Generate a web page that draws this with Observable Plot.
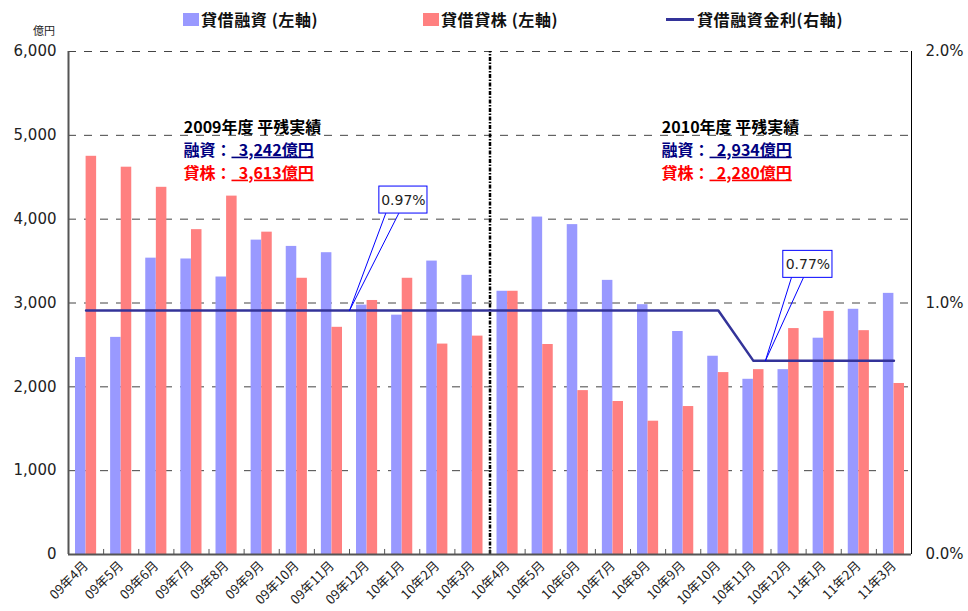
<!DOCTYPE html>
<html><head><meta charset="utf-8">
<script src="https://cdn.jsdelivr.net/npm/d3@7"></script>
<script src="https://cdn.jsdelivr.net/npm/@observablehq/plot@0.6"></script>
<style>
body{margin:0;background:#fff;}
#wrap{position:relative;width:968px;height:611px;overflow:hidden;}
#wrap svg{position:absolute;left:0;top:0;}
.lg{position:absolute;top:9px;font-family:"Noto Sans CJK JP";font-weight:700;font-size:16px;letter-spacing:0.6px;color:#111;white-space:nowrap;line-height:20px;}
.sw{position:absolute;}
.unit{position:absolute;left:33px;top:22px;font-family:"Noto Sans CJK JP";font-size:11px;color:#222;}
</style></head><body><div id="wrap"></div><script>
// ---- data ----
const months = ["09年4月","09年5月","09年6月","09年7月","09年8月","09年9月","09年10月","09年11月","09年12月","10年1月","10年2月","10年3月",
                "10年4月","10年5月","10年6月","10年7月","10年8月","10年9月","10年10月","10年11月","10年12月","11年1月","11年2月","11年3月"];
const loans = [2350,2590,3535,3525,3310,3750,3675,3600,2975,2855,3500,3330,
               3140,4025,3935,3270,2980,2660,2365,2090,2205,2580,2925,3115];
const lent  = [4750,4620,4380,3875,4275,3845,3295,2710,3030,3295,2510,2605,
               3140,2505,1955,1825,1590,1765,2170,2205,2695,2900,2670,2040];
const rates = [0.97,0.97,0.97,0.97,0.97,0.97,0.97,0.97,0.97,0.97,0.97,0.97,
               0.97,0.97,0.97,0.97,0.97,0.97,0.97,0.77,0.77,0.77,0.77,0.77];
const seriesNames = ["貸借融資 (左軸)","貸借貸株 (左軸)","貸借融資金利(右軸)"];
const leftTicks = [0,1000,2000,3000,4000,5000,6000];
const rightTicks = [0.0,1.0,2.0];
const summaries = [
  {title:"2009年度 平残実績", loanLabel:"融資：", loanValue:"3,242億円", lentLabel:"貸株：", lentValue:"3,613億円"},
  {title:"2010年度 平残実績", loanLabel:"融資：", loanValue:"2,934億円", lentLabel:"貸株：", lentValue:"2,280億円"}
];
const callouts = [{label:"0.97%", rate:0.97}, {label:"0.77%", rate:0.77}];

// ---- layout of annotations (in x index / y value units) ----
const summaryLayout = [{x:4.64, y:4819}, {x:18.25, y:4819}];
const calloutLayout = [
  {at:8.0,  bx1:0.85, bx2:2.22, by1:1157, by2:1479, b1:1.03, b2:1.40},
  {at:19.84, bx1:0.51, bx2:1.91, by1:990, by2:1312, b1:0.74, b2:1.08}
];

const colors = ["#9999ff","#ff8080","#333399"];
const RATE_K = 3000; // 1% on right axis == 3000 on left axis
const idx = d3.range(months.length);
const splitAt = months.indexOf("10年4月");

const sumData = summaries.map((s,i)=>({...s, ...summaryLayout[i]}));
const boxes = callouts.map((c,i)=>{
  const L = calloutLayout[i], ty = c.rate*RATE_K;
  return {label:c.label, x1:L.at+L.bx1, x2:L.at+L.bx2, y1:ty+L.by1, y2:ty+L.by2,
          pts:[[L.at+L.b1, ty+L.by1],[L.at, ty],[L.at+L.b2, ty+L.by1]]};
});
const pointerPts = boxes.flatMap((b,k)=>b.pts.map(p=>({x:p[0], y:p[1], k})));

const FS = 16, LH = 23;
const chart = Plot.plot({
  width:968, height:611,
  marginLeft:68, marginRight:57, marginTop:51, marginBottom:57,
  x:{domain:[0,months.length]},
  y:{domain:[0,6000]},
  style:{fontFamily:"DejaVu Sans", background:"transparent", color:"#222"},
  marks:[
    Plot.ruleY(leftTicks.filter(d=>d>0), {stroke:"#444", strokeDasharray:"8,8", strokeWidth:1}),
    Plot.rect(idx, {x1:i=>i, x2:i=>i+1, y1:0, y2:i=>loans[i], fill:colors[0], insetLeft:7, insetRight:17.6}),
    Plot.rect(idx, {x1:i=>i, x2:i=>i+1, y1:0, y2:i=>lent[i], fill:colors[1], insetLeft:17.6, insetRight:7}),
    Plot.ruleX([splitAt], {y1:0, y2:6000, stroke:"#000", strokeWidth:2.5, strokeDasharray:"4,1.5,1.5,1.5"}),
    Plot.line(idx, {x:i=>i+0.5, y:i=>rates[i]*RATE_K, stroke:colors[2], strokeWidth:2.5}),
    // callouts
    Plot.line(pointerPts, {x:"x", y:"y", z:"k", stroke:"#0000ff", strokeWidth:1}),
    Plot.rect(boxes, {x1:"x1", x2:"x2", y1:"y1", y2:"y2", fill:"#fff", stroke:"#0000ff", strokeWidth:1}),
    Plot.text(boxes, {x:d=>(d.x1+d.x2)/2, y:d=>(d.y1+d.y2)/2, text:"label", fontSize:14, fill:"#222", fontFamily:"DejaVu Sans"}),
    // summaries
    Plot.text(sumData, {x:"x", y:"y", dx:21, dy:-LH, text:"title", fontSize:FS, fontWeight:700, fill:"#000", fontFamily:"Noto Sans CJK JP"}),
    Plot.text(sumData, {x:"x", y:"y", text:"loanLabel", textAnchor:"end", fontSize:FS, fontWeight:700, fill:"#000080", fontFamily:"Noto Sans CJK JP"}),
    Plot.text(sumData, {x:"x", y:"y", text:d=>"\u00a0\u00a0"+d.loanValue, textAnchor:"start", fontSize:FS, fontWeight:700, fill:"#000080", fontFamily:"Noto Sans CJK JP"}),
    Plot.text(sumData, {x:"x", y:"y", dy:LH, text:"lentLabel", textAnchor:"end", fontSize:FS, fontWeight:700, fill:"#ff0000", fontFamily:"Noto Sans CJK JP"}),
    Plot.text(sumData, {x:"x", y:"y", dy:LH, text:d=>"\u00a0\u00a0"+d.lentValue, textAnchor:"start", fontSize:FS, fontWeight:700, fill:"#ff0000", fontFamily:"Noto Sans CJK JP"}),
    // axes
    Plot.ruleX(d3.range(1,months.length), {y1:0, y2:60, stroke:"#555", strokeWidth:1}),
    Plot.ruleX([0], {stroke:"#555", strokeWidth:2}),
    Plot.ruleX([months.length], {stroke:"#000", strokeWidth:1}),
    Plot.ruleY([0], {stroke:"#555", strokeWidth:2}),
    Plot.axisY(leftTicks, {anchor:"left", tickSize:0, tickPadding:12, tickFormat:d3.format(","), fontSize:15, label:null}),
    Plot.axisY(rightTicks.map(d=>d*RATE_K), {anchor:"right", tickSize:0, tickPadding:14, tickFormat:d=>(d/RATE_K).toFixed(1)+"%", fontSize:15, label:null}),
    Plot.axisX(idx.map(i=>i+0.5), {anchor:"bottom", tickSize:0, tickPadding:9, tickRotate:-45, tickFormat:d=>months[Math.floor(d)], fontSize:13, fontFamily:"Noto Sans CJK JP", label:null})
  ]
});
d3.select(chart).selectAll("text").filter(function(){return /億円$/.test(this.textContent);}).style("text-decoration","underline");

const wrap = document.getElementById("wrap");
wrap.appendChild(chart);
// legend + unit
const unit = document.createElement("div"); unit.className="unit"; unit.textContent="億円"; wrap.appendChild(unit);
const legendPos = [183, 423, 666];
seriesNames.forEach((name,i)=>{
  const sw = document.createElement("div"); sw.className="sw";
  if(i<2){ Object.assign(sw.style,{left:legendPos[i]+"px", top:"13px", width:"16px", height:"13px", background:colors[i]}); }
  else { Object.assign(sw.style,{left:legendPos[i]+"px", top:"18px", width:"28px", height:"3px", background:colors[i]}); }
  wrap.appendChild(sw);
  const t = document.createElement("div"); t.className="lg"; t.textContent=name;
  t.style.left = (legendPos[i] + (i<2?18:31)) + "px";
  wrap.appendChild(t);
});
</script></body></html>
